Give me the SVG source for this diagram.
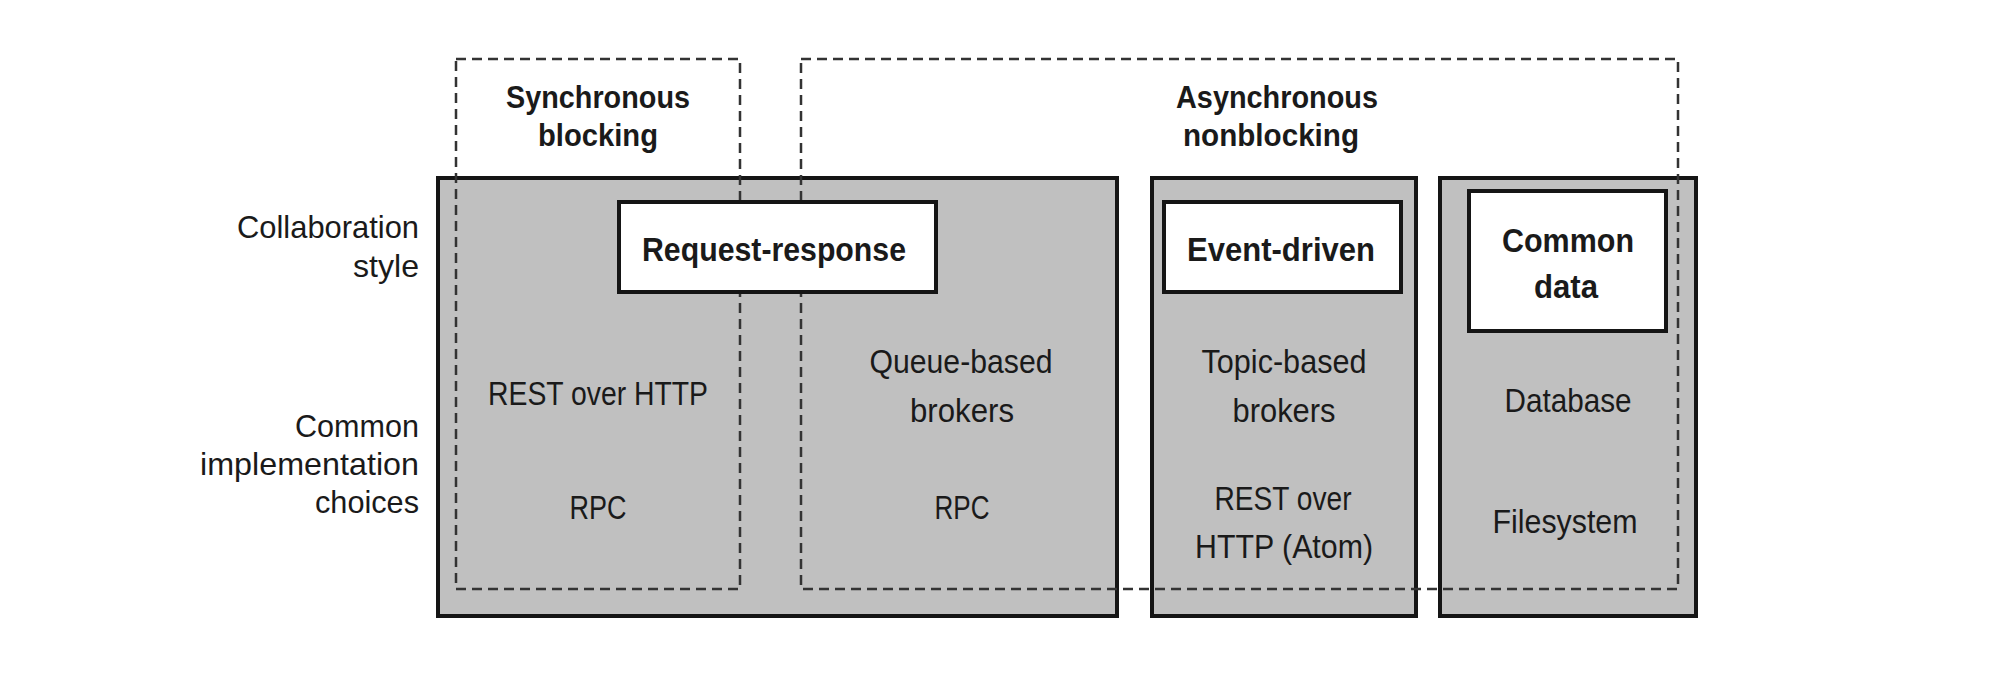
<svg xmlns="http://www.w3.org/2000/svg" width="2004" height="696" viewBox="0 0 2004 696">
<style>
text{font-family:"Liberation Sans","Noto Sans",sans-serif;fill:#1a1a1a}
.lbl{font-size:32px;text-anchor:end}
.hdr{font-size:32px;font-weight:700;text-anchor:middle}
.ttl{font-size:33px;font-weight:700;text-anchor:middle}
.cnt{font-size:33px;text-anchor:middle}
.col{fill:#c0c0c0;stroke:#151515;stroke-width:4}
.box{fill:#ffffff;stroke:#151515;stroke-width:4}
.dash{fill:none;stroke:#333333;stroke-width:2.5;stroke-dasharray:10 6}
</style>
<rect width="2004" height="696" fill="#ffffff"/>
<g id="row-labels">
<text class="lbl" x="419" y="238" textLength="182" lengthAdjust="spacingAndGlyphs">Collaboration</text>
<text class="lbl" x="419" y="277" textLength="66" lengthAdjust="spacingAndGlyphs">style</text>
<text class="lbl" x="419" y="437" textLength="124" lengthAdjust="spacingAndGlyphs">Common</text>
<text class="lbl" x="419" y="475" textLength="219" lengthAdjust="spacingAndGlyphs">implementation</text>
<text class="lbl" x="419" y="513" textLength="104" lengthAdjust="spacingAndGlyphs">choices</text>
</g>
<g id="request-response-column">
<rect class="col" x="438" y="178" width="679" height="438"/>
</g>
<g id="event-driven-column">
<rect class="col" x="1152" y="178" width="264" height="438"/>
</g>
<g id="common-data-column">
<rect class="col" x="1440" y="178" width="256" height="438"/>
</g>
<g id="synchronous-blocking">
<rect class="dash" x="456" y="59" width="284" height="530"/>
<text class="hdr" x="598" y="108" textLength="184" lengthAdjust="spacingAndGlyphs">Synchronous</text>
<text class="hdr" x="598" y="146" textLength="120" lengthAdjust="spacingAndGlyphs">blocking</text>
</g>
<g id="asynchronous-nonblocking">
<rect class="dash" x="801" y="59" width="877" height="530"/>
<text class="hdr" x="1277" y="108" textLength="202" lengthAdjust="spacingAndGlyphs">Asynchronous</text>
<text class="hdr" x="1271" y="146" textLength="176" lengthAdjust="spacingAndGlyphs">nonblocking</text>
</g>
<g id="request-response">
<rect class="box" x="619" y="202" width="317" height="90"/>
<text class="ttl" x="774" y="261" textLength="264" lengthAdjust="spacingAndGlyphs">Request-response</text>
</g>
<g id="event-driven">
<rect class="box" x="1164" y="202" width="237" height="90"/>
<text class="ttl" x="1281" y="261" textLength="188" lengthAdjust="spacingAndGlyphs">Event-driven</text>
</g>
<g id="common-data">
<rect class="box" x="1469" y="191" width="197" height="140"/>
<text class="ttl" x="1568" y="252" textLength="132" lengthAdjust="spacingAndGlyphs">Common</text>
<text class="ttl" x="1566" y="298" textLength="64" lengthAdjust="spacingAndGlyphs">data</text>
</g>
<g id="sync-implementations">
<text class="cnt" x="598" y="405" textLength="220" lengthAdjust="spacingAndGlyphs">REST over HTTP</text>
<text class="cnt" x="598" y="519" textLength="57" lengthAdjust="spacingAndGlyphs">RPC</text>
</g>
<g id="async-request-implementations">
<text class="cnt" x="961" y="373" textLength="183" lengthAdjust="spacingAndGlyphs">Queue-based</text>
<text class="cnt" x="962" y="422" textLength="104" lengthAdjust="spacingAndGlyphs">brokers</text>
<text class="cnt" x="962" y="519" textLength="55" lengthAdjust="spacingAndGlyphs">RPC</text>
</g>
<g id="event-implementations">
<text class="cnt" x="1284" y="373" textLength="165" lengthAdjust="spacingAndGlyphs">Topic-based</text>
<text class="cnt" x="1284" y="422" textLength="103" lengthAdjust="spacingAndGlyphs">brokers</text>
<text class="cnt" x="1283" y="510" textLength="137" lengthAdjust="spacingAndGlyphs">REST over</text>
<text class="cnt" x="1284" y="558" textLength="178" lengthAdjust="spacingAndGlyphs">HTTP (Atom)</text>
</g>
<g id="common-data-implementations">
<text class="cnt" x="1568" y="412" textLength="127" lengthAdjust="spacingAndGlyphs">Database</text>
<text class="cnt" x="1565" y="533" textLength="145" lengthAdjust="spacingAndGlyphs">Filesystem</text>
</g>
</svg>
